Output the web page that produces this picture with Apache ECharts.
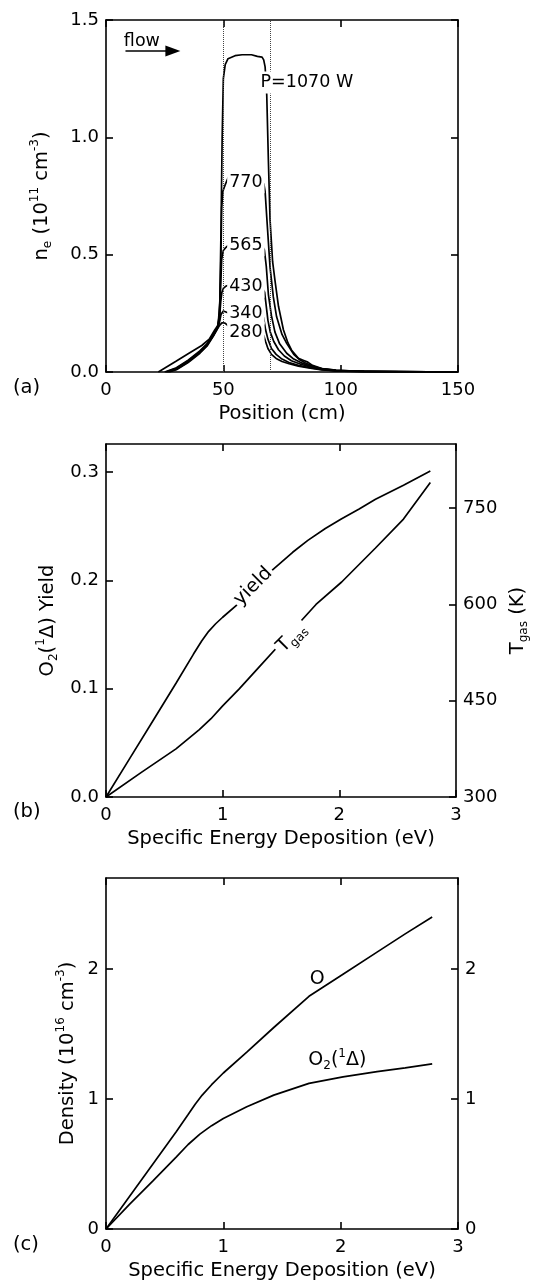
<!DOCTYPE html>
<html><head><meta charset="utf-8">
<script src="https://cdn.jsdelivr.net/npm/echarts@6/dist/echarts.min.js"></script>
<style>html,body{margin:0;padding:0;background:#fff}#c{width:538px;height:1287px}</style>
</head><body><div id="c"></div>
<script>
// ---------- DATA ----------
// Panel (a): electron density n_e (1e11 cm^-3) vs position (cm), per power
const powers = ['1070', '770', '565', '430', '340', '280'];
const ne1070 = [[22.3,0],[30,0.047],[35,0.078],[40.8,0.113],[44,0.14],[46.4,0.18],[47.8,0.2],[48.5,0.3],[49,0.6],[49.5,1.0],[50,1.25],[50.8,1.31],[52,1.335],[55,1.348],[58,1.352],[62,1.352],[64.5,1.345],[66.5,1.342],[67.2,1.33],[67.8,1.30],[68.2,1.24],[68.5,1.18],[69.2,0.9],[69.9,0.65],[71,0.47],[72,0.39],[73.5,0.28],[75.6,0.18],[77.5,0.125],[79.1,0.093],[82,0.058],[84,0.05],[86,0.042],[88,0.028],[92,0.015],[98,0.008],[105,0.004],[125,0.001],[150,0]];
const ne770 = [[25,0],[30,0.018],[35,0.05],[40,0.09],[43,0.12],[45.7,0.16],[47.5,0.19],[48.4,0.25],[48.9,0.45],[49.3,0.7],[49.8,0.77],[50.7,0.795],[52.1,0.83],[55,0.835],[60,0.835],[64,0.83],[66.3,0.816],[67.3,0.8],[67.8,0.77],[68.5,0.66],[69.9,0.447],[71.3,0.32],[72.7,0.235],[75,0.16],[77,0.122],[80,0.075],[82.7,0.051],[85,0.038],[88,0.025],[92,0.014],[98,0.007],[110,0.003],[150,0]];
const ne565 = [[25.5,0],[30,0.016],[35,0.047],[40,0.087],[43,0.117],[45.7,0.158],[47.5,0.19],[48.3,0.23],[48.8,0.35],[49.3,0.48],[50,0.518],[51,0.53],[52.1,0.54],[56,0.545],[62,0.545],[66.3,0.543],[67.5,0.52],[68.3,0.45],[69.2,0.33],[70.5,0.24],[72,0.17],[74,0.12],[77,0.08],[80,0.055],[83,0.04],[87,0.025],[92,0.013],[98,0.006],[110,0.002],[150,0]];
const ne430 = [[26,0],[30,0.014],[35,0.045],[40,0.085],[43,0.115],[45.7,0.156],[47.5,0.188],[48.3,0.22],[48.9,0.3],[49.4,0.34],[50,0.356],[51,0.365],[52.1,0.37],[56,0.37],[62,0.37],[66.3,0.363],[67.6,0.34],[68.3,0.28],[69,0.22],[70,0.17],[71.5,0.13],[73.5,0.095],[76,0.068],[79,0.048],[83,0.033],[87,0.022],[92,0.012],[98,0.005],[110,0.002],[150,0]];
const ne340 = [[26.5,0],[30,0.012],[35,0.043],[40,0.083],[43,0.113],[45.7,0.154],[47.5,0.186],[48.3,0.21],[49,0.245],[50,0.26],[50.7,0.263],[52.5,0.25],[56,0.25],[62,0.25],[66,0.25],[67.2,0.23],[68,0.18],[69,0.14],[70.5,0.1],[72.5,0.075],[75,0.055],[78,0.04],[82,0.028],[87,0.018],[92,0.01],[100,0.004],[150,0]];
const ne280 = [[27,0],[30,0.01],[35,0.04],[40,0.08],[43,0.11],[45.7,0.152],[47.5,0.184],[48.5,0.2],[49.5,0.21],[50.7,0.208],[52.5,0.193],[56,0.19],[62,0.185],[66,0.167],[67.2,0.155],[68,0.13],[69,0.1],[70.5,0.075],[72.5,0.058],[75,0.045],[78,0.035],[82,0.025],[87,0.016],[92,0.009],[100,0.004],[150,0]];
const neSeries = [ne1070, ne770, ne565, ne430, ne340, ne280];
const coilEdges = [50, 70];

// Panel (b): O2(1Δ) yield and gas temperature vs specific energy deposition (eV)
const yieldData = [[0,0],[0.2,0.035],[0.4,0.07],[0.6,0.105],[0.75,0.132],[0.82,0.144],[0.88,0.153],[0.94,0.16],[1.0,0.166],[1.14,0.179],[1.27,0.194],[1.43,0.21],[1.6,0.226],[1.73,0.237],[1.88,0.248],[2.02,0.257],[2.17,0.266],[2.31,0.275],[2.55,0.288],[2.78,0.301]];
const tgasData = [[0,300],[0.3,338],[0.6,375],[0.8,405],[0.9,422],[1.0,442],[1.14,468],[1.3,500],[1.5,540],[1.8,600],[2.02,635],[2.31,688],[2.55,733],[2.78,790]];

// Panel (c): densities (1e16 cm^-3) vs specific energy deposition (eV)
const oData = [[0,0],[0.2,0.25],[0.4,0.5],[0.6,0.75],[0.7,0.88],[0.76,0.96],[0.82,1.03],[0.9,1.11],[1.0,1.20],[1.2,1.36],[1.43,1.55],[1.73,1.79],[2.02,1.96],[2.31,2.13],[2.55,2.27],[2.78,2.40]];
const o2Data = [[0,0],[0.2,0.19],[0.4,0.37],[0.6,0.555],[0.7,0.65],[0.8,0.73],[0.9,0.795],[1.0,0.85],[1.2,0.94],[1.43,1.03],[1.73,1.12],[2.02,1.17],[2.31,1.21],[2.55,1.24],[2.78,1.27]];

// ---------- STYLE / LAYOUT ----------
const FONT = 'DejaVu Sans';
const TICK_FS = 18, NAME_FS = 19.5, ANN_FS = 17.5, ANN_FS2 = 19;
const BLACK = '#000';
const lineStyle = {color: BLACK, width: 1.7};
const axLine = {show: true, onZero: false, lineStyle: {color: BLACK, width: 1.6}};
const axTick = {show: true, inside: true, length: 7, lineStyle: {color: BLACK, width: 1.6}};
const richBase = {
  m: {fontSize: NAME_FS, fontFamily: FONT, color: BLACK, lineHeight: 25},
  sup: {fontSize: 12, fontFamily: FONT, color: BLACK, verticalAlign: 'top'},
  sub: {fontSize: 12, fontFamily: FONT, color: BLACK, verticalAlign: 'bottom'}
};

function xAxisPair(g, max, interval, name, nameGap) {
  return [
    {gridIndex: g, type: 'value', min: 0, max: max, interval: interval, position: 'bottom',
     axisLine: axLine, axisTick: axTick, splitLine: {show: false},
     axisLabel: {color: BLACK, fontFamily: FONT, fontSize: TICK_FS, margin: 9},
     name: name, nameLocation: 'middle', nameGap: nameGap, nameMoveOverlap: false,
     nameTextStyle: {color: BLACK, fontFamily: FONT, fontSize: NAME_FS}},
    {gridIndex: g, type: 'value', min: 0, max: max, interval: interval, position: 'top',
     axisLine: axLine, axisTick: axTick, splitLine: {show: false}, axisLabel: {show: false}}
  ];
}
function yAxisDef(g, pos, min, max, interval, opts) {
  return Object.assign({
    gridIndex: g, type: 'value', position: pos, min: min, max: max, interval: interval,
    axisLine: axLine, axisTick: axTick, splitLine: {show: false},
    axisLabel: {show: false}
  }, opts || {});
}
function lbl(fmt, extra) {
  return Object.assign({color: BLACK, fontFamily: FONT, fontSize: TICK_FS, margin: 7, formatter: fmt}, extra || {});
}

const xAxes = [].concat(
  xAxisPair(0, 150, 50, 'Position (cm)', 32),
  xAxisPair(1, 3, 1, 'Specific Energy Deposition (eV)', 32),
  xAxisPair(2, 3, 1, 'Specific Energy Deposition (eV)', 32)
);

const yAxes = [
  yAxisDef(0, 'left', 0, 1.5, 0.5, {
    axisLabel: lbl(v => v.toFixed(1)),
    name: '{m|n}{sub|e}{m| (10}{sup|11}{m| cm}{sup|-3}{m|)}', nameLocation: 'middle', nameRotate: 90, nameGap: 52, nameMoveOverlap: false,
    nameTextStyle: {rich: richBase}
  }),
  yAxisDef(0, 'right', 0, 1.5, 0.5),
  yAxisDef(1, 'left', 0, 0.326, 0.1, {
    axisLabel: lbl(v => v.toFixed(1), {showMaxLabel: false}),
    name: '{m|O}{sub|2}{m|(}{sup|1}{m|Δ) Yield}', nameLocation: 'middle', nameRotate: 90, nameGap: 46, nameMoveOverlap: false,
    nameTextStyle: {rich: richBase}
  }),
  yAxisDef(1, 'right', 300, 850, 150, {
    axisLabel: lbl(v => String(Math.round(v)), {showMaxLabel: false}),
    name: '{m|T}{sub|gas}{m| (K)}', nameLocation: 'middle', nameRotate: 90, nameGap: 49, nameMoveOverlap: false,
    nameTextStyle: {rich: richBase}
  }),
  yAxisDef(2, 'left', 0, 2.7, 1, {
    axisLabel: lbl(v => String(Math.round(v)), {showMaxLabel: false}),
    name: '{m|Density (10}{sup|16}{m| cm}{sup|-3}{m|)}', nameLocation: 'middle', nameRotate: 90, nameGap: 26, nameMoveOverlap: false,
    nameTextStyle: {rich: richBase}
  }),
  yAxisDef(2, 'right', 0, 2.7, 1, {
    axisLabel: lbl(v => String(Math.round(v)), {showMaxLabel: false})
  })
];

const annRich = {
  m: {fontSize: ANN_FS, fontFamily: FONT, color: BLACK, lineHeight: 22},
  mb: {fontSize: ANN_FS2, fontFamily: FONT, color: BLACK, lineHeight: 24},
  sup: {fontSize: 12, fontFamily: FONT, color: BLACK, verticalAlign: 'top'},
  sub: {fontSize: 12, fontFamily: FONT, color: BLACK, verticalAlign: 'bottom'}
};
function ann(x, y, text, pos, extra) {
  return {value: [x, y], label: Object.assign({show: true, color: BLACK, opacity: 1, formatter: text, position: pos, distance: 0, rich: annRich}, extra || {})};
}
const bg = {backgroundColor: '#fff', padding: [0, 2]};

const series = [];
neSeries.forEach((d, i) => {
  series.push({
    type: 'line', name: powers[i] + ' W', xAxisIndex: 0, yAxisIndex: 0, data: d,
    symbol: 'none', showSymbol: false, lineStyle: lineStyle, silent: true, z: 2,
    markLine: i === 0 ? {
      silent: true, animation: false, label: {show: false}, symbol: ['none', 'none'],
      data: coilEdges.map(x => ({xAxis: x, lineStyle: {type: 'dotted', color: '#444', width: 1}})).concat([
        [{coord: [8.3, 1.368], symbol: 'none', lineStyle: {type: 'solid', color: BLACK, width: 1.7}},
         {coord: [28.5, 1.368], symbol: 'triangle', symbolSize: [11, 15]}]
      ]),
      itemStyle: {color: BLACK}
    } : undefined
  });
});
const annStyle = {color: BLACK, opacity: 1};
series.push({
  type: 'scatter', xAxisIndex: 0, yAxisIndex: 0, symbolSize: 1, silent: true, z: 10,
  itemStyle: {color: '#fff', opacity: 0}, label: annStyle,
  data: [
    ann(7.4, 1.41, '{m|flow}', 'right'),
    ann(64.8, 1.234, '{m|P=1070 W}', 'right', bg),
    ann(59.6, 0.809, '{m|' + powers[1] + '}', 'inside', bg),
    ann(59.6, 0.540, '{m|' + powers[2] + '}', 'inside', bg),
    ann(59.6, 0.363, '{m|' + powers[3] + '}', 'inside', bg),
    ann(59.6, 0.249, '{m|' + powers[4] + '}', 'inside', bg),
    ann(59.6, 0.167, '{m|' + powers[5] + '}', 'inside', bg)
  ]
});
series.push({type: 'line', name: 'yield', xAxisIndex: 2, yAxisIndex: 2, data: yieldData, symbol: 'none', lineStyle: lineStyle, silent: true});
series.push({type: 'line', name: 'Tgas', xAxisIndex: 2, yAxisIndex: 3, data: tgasData, symbol: 'none', lineStyle: lineStyle, silent: true});
series.push({
  type: 'scatter', xAxisIndex: 2, yAxisIndex: 2, symbolSize: 1, silent: true, z: 10, itemStyle: {color: '#fff', opacity: 0}, label: annStyle,
  data: [ann(1.262, 0.1946, '{mb|yield}', 'inside', Object.assign({rotate: 45}, bg))]
});
series.push({
  type: 'scatter', xAxisIndex: 2, yAxisIndex: 3, symbolSize: 1, silent: true, z: 10, itemStyle: {color: '#fff', opacity: 0}, label: annStyle,
  data: [ann(1.59, 548, '{mb|T}{sub|gas}', 'inside', Object.assign({rotate: 45}, bg, {padding: [2, 3]}))]
});
series.push({type: 'line', name: 'O', xAxisIndex: 4, yAxisIndex: 4, data: oData, symbol: 'none', lineStyle: lineStyle, silent: true});
series.push({type: 'line', name: 'O2', xAxisIndex: 4, yAxisIndex: 4, data: o2Data, symbol: 'none', lineStyle: lineStyle, silent: true});
series.push({
  type: 'scatter', xAxisIndex: 4, yAxisIndex: 4, symbolSize: 1, silent: true, z: 10, itemStyle: {color: '#fff', opacity: 0}, label: annStyle,
  data: [
    ann(1.80, 1.92, '{mb|O}', 'inside'),
    ann(1.72, 1.30, '{mb|O}{sub|2}{mb|(}{sup|1}{mb|Δ)}', 'right')
  ]
});

const panelTag = (t, y) => ({type: 'text', left: 13, top: y - 12, silent: true,
  style: {text: t, fontFamily: FONT, fontSize: NAME_FS, fill: BLACK}});

const option = {
  animation: false,
  backgroundColor: '#fff',
  grid: [
    {left: 106, right: 80, top: 20, height: 352},
    {left: 106, right: 80, top: 444, height: 353},
    {left: 106, right: 80, top: 878, height: 351}
  ],
  xAxis: xAxes,
  yAxis: yAxes,
  series: series,
  graphic: [panelTag('(a)', 390), panelTag('(b)', 814), panelTag('(c)', 1247)]
};
const chart = echarts.init(document.getElementById('c'), null, {renderer: 'canvas'});
chart.setOption(option);
</script>
</body></html>
